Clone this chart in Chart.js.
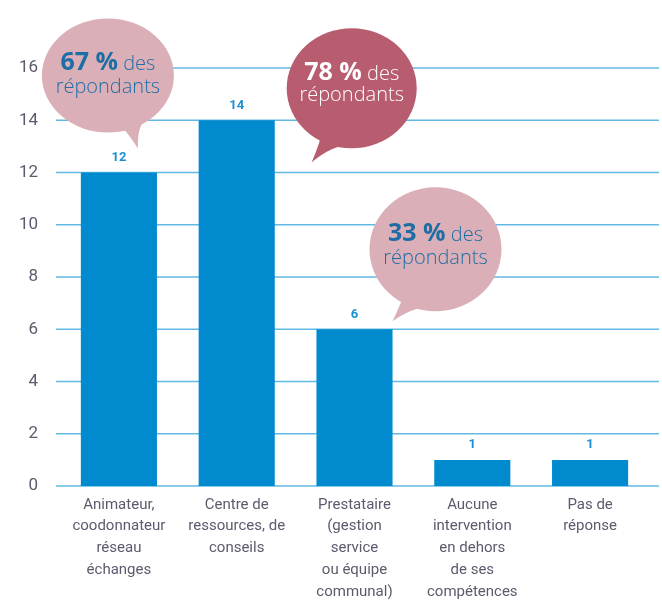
<!DOCTYPE html>
<html lang="fr">
<head>
<meta charset="utf-8">
<title>Intervenants</title>
<script src="https://cdn.jsdelivr.net/npm/chart.js@4.4.1/dist/chart.umd.min.js"></script>
<style>
  html, body { margin: 0; padding: 0; background: #ffffff; }
  canvas { display: block; }
</style>
</head>
<body>
<canvas id="chart" width="662" height="605"></canvas>
<script>
// Categories (multi-line tick labels)
const categories = [
  ['Animateur,', 'coodonnateur', 'réseau', 'échanges'],
  ['Centre de', 'ressources, de', 'conseils'],
  ['Prestataire', '(gestion', 'service', 'ou équipe', 'communal)'],
  ['Aucune', 'intervention', 'en dehors', 'de ses', 'compétences'],
  ['Pas de', 'réponse']
];

// Number of respondents per category
const counts = [12, 14, 6, 1, 1];

// Y axis ticks
const yMin = 0;
const yMax = 16;
const yStep = 2;

// Callouts: which bar each one refers to, and the share it states
const calloutBars = [0, 1, 2];
const calloutPercents = [67, 78, 33];
const calloutSuffix = ['des', 'répondants'];

// Styles
const BAR_COLOR = '#018ace';
const GRID_COLOR = '#62b9e3';
const TICK_COLOR = '#5c5a6c';
const VALUE_COLOR = '#1a8fd3';
const PINK = '#dbafb7';
const ROSE = '#b75d6f';
const CALLOUT_BLUE = '#1e6ea6';

// Geometry of each callout, relative to the top-centre of its bar
const calloutStyles = [
  { dx: -11, dy: -97, rx: 66, ry: 57, tip: [19, -24], a1: 76, a2: 50, fill: PINK, text: CALLOUT_BLUE, l1: -6, l2: 17 },
  { dx: 115, dy: -32, rx: 65, ry: 60, tip: [75, 42], a1: 120, a2: 88, fill: ROSE, text: '#ffffff', l1: -8, l2: 13 },
  { dx: 81, dy: -80, rx: 66, ry: 62, tip: [38, -8], a1: 122, a2: 90, fill: PINK, text: CALLOUT_BLUE, l1: -8, l2: 15 }
];

// Horizontal grid lines, slightly wider than the plot area
const gridLines = {
  id: 'gridLines',
  beforeDatasetsDraw(chart) {
    const { ctx, chartArea, scales } = chart;
    const y = scales.y;
    ctx.save();
    ctx.strokeStyle = GRID_COLOR;
    ctx.lineWidth = 1.6;
    y.ticks.forEach(t => {
      const py = y.getPixelForValue(t.value);
      ctx.beginPath();
      ctx.moveTo(chartArea.left - 4, py);
      ctx.lineTo(chartArea.right + 10, py);
      ctx.stroke();
    });
    ctx.restore();
  }
};

// Value printed above every bar
const valueLabels = {
  id: 'valueLabels',
  afterDatasetsDraw(chart) {
    const { ctx } = chart;
    const meta = chart.getDatasetMeta(0);
    ctx.save();
    ctx.fillStyle = VALUE_COLOR;
    ctx.font = 'bold 13px Roboto, "Open Sans", sans-serif';
    ctx.textAlign = 'center';
    ctx.textBaseline = 'middle';
    meta.data.forEach((bar, i) => {
      ctx.fillText(String(counts[i]), bar.x, bar.y - 15);
    });
    ctx.restore();
  }
};

// Speech-bubble callouts
const callouts = {
  id: 'callouts',
  afterDatasetsDraw(chart) {
    const { ctx } = chart;
    const meta = chart.getDatasetMeta(0);
    calloutBars.forEach((barIndex, k) => {
      const s = calloutStyles[k];
      const bar = meta.data[barIndex];
      const cx = bar.x + s.dx;
      const cy = bar.y + s.dy;
      const tx = bar.x + s.tip[0];
      const ty = bar.y + s.tip[1];
      const rad = d => d * Math.PI / 180;
      const p1 = [cx + 0.96 * s.rx * Math.cos(rad(s.a1)), cy + 0.96 * s.ry * Math.sin(rad(s.a1))];
      const p2 = [cx + 0.96 * s.rx * Math.cos(rad(s.a2)), cy + 0.96 * s.ry * Math.sin(rad(s.a2))];

      ctx.save();
      ctx.fillStyle = s.fill;
      ctx.beginPath();
      ctx.ellipse(cx, cy, s.rx, s.ry, 0, 0, Math.PI * 2);
      ctx.fill();

      // tail
      const m1 = [(p1[0] + tx) / 2, (p1[1] + ty) / 2];
      const m2 = [(p2[0] + tx) / 2, (p2[1] + ty) / 2];
      const pull = 0.18;
      const c1 = [m1[0] + (cx - m1[0]) * pull * 0.3, m1[1] + (cy - m1[1]) * pull * 0.3];
      const c2 = [m2[0] + (cx - m2[0]) * pull, m2[1] + (cy - m2[1]) * pull];
      ctx.beginPath();
      ctx.moveTo(p1[0], p1[1]);
      ctx.quadraticCurveTo(c1[0], c1[1], tx, ty);
      ctx.quadraticCurveTo(c2[0], c2[1], p2[0], p2[1]);
      ctx.closePath();
      ctx.fill();

      // text
      ctx.fillStyle = s.text;
      ctx.textBaseline = 'alphabetic';
      const bold = 'bold 25px "Open Sans", sans-serif';
      const light = '300 20px "Open Sans", sans-serif';
      const num = calloutPercents[k] + ' %';
      ctx.font = bold;
      const wNum = ctx.measureText(num).width;
      ctx.font = light;
      const wSp = ctx.measureText(' ').width;
      const wDes = ctx.measureText(calloutSuffix[0]).width;
      const total = wNum + wSp + wDes;
      let x0 = cx - total / 2;
      ctx.textAlign = 'left';
      ctx.font = bold;
      ctx.fillText(num, x0, cy + s.l1);
      ctx.font = light;
      ctx.fillText(calloutSuffix[0], x0 + wNum + wSp, cy + s.l1);
      ctx.textAlign = 'center';
      ctx.fillText(calloutSuffix[1], cx, cy + s.l2);
      ctx.restore();
    });
  }
};

new Chart(document.getElementById('chart'), {
  type: 'bar',
  data: {
    labels: categories,
    datasets: [{
      data: counts,
      backgroundColor: BAR_COLOR,
      borderWidth: 0,
      barPercentage: 0.646,
      categoryPercentage: 1
    }]
  },
  options: {
    responsive: false,
    animation: false,
    layout: { padding: { top: 68, right: 13, left: 0, bottom: 0 } },
    plugins: {
      legend: { display: false },
      tooltip: { enabled: false }
    },
    scales: {
      x: {
        grid: { display: false, drawTicks: false },
        border: { display: false },
        ticks: {
          color: TICK_COLOR,
          font: { family: 'Roboto, sans-serif', size: 15, lineHeight: 1.45 },
          padding: 8,
          maxRotation: 0,
          autoSkip: false
        },
        afterFit(scale) { scale.height = 119; }
      },
      y: {
        min: yMin,
        max: yMax,
        grid: { display: false, drawTicks: false },
        border: { display: false },
        ticks: {
          stepSize: yStep,
          color: TICK_COLOR,
          font: { family: 'Roboto, sans-serif', size: 17 },
          padding: 22
        },
        afterFit(scale) { scale.width = 60; }
      }
    }
  },
  plugins: [gridLines, valueLabels, callouts]
});
</script>
</body>
</html>
